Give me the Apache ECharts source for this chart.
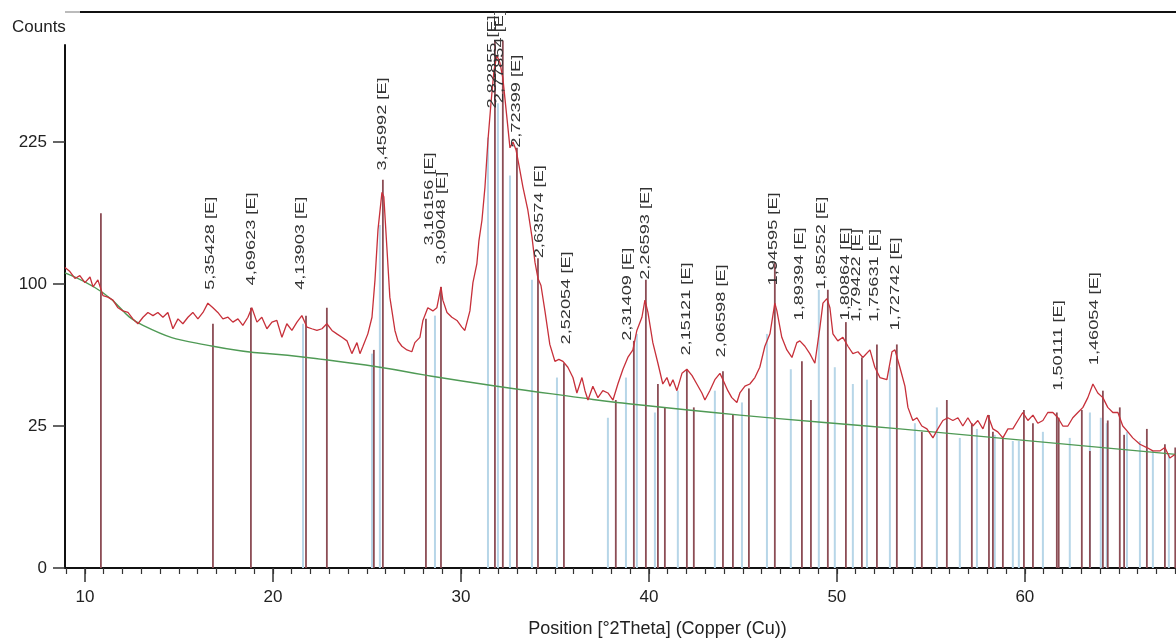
<!DOCTYPE html>
<html><head><meta charset="utf-8">
<script src="https://cdn.jsdelivr.net/npm/echarts@6/dist/echarts.min.js"></script>
<style>html,body{margin:0;padding:0;background:#fff}#c{width:1176px;height:639px}</style>
</head><body><div id="c"></div>
<script>
// Observed pattern: position (°2Theta) and counts
const twoTheta = [
 8.94,9.20,9.47,9.73,10.00,10.27,10.43,10.69,10.96,11.22,
 11.49,11.76,12.02,12.29,12.55,12.82,13.09,13.35,13.62,13.88,
 14.15,14.41,14.68,14.95,15.21,15.48,15.74,16.01,16.28,16.54,
 16.81,17.07,17.34,17.61,17.87,18.14,18.40,18.67,18.88,19.15,
 19.41,19.68,19.95,20.21,20.48,20.74,21.01,21.28,21.54,21.81,
 22.07,22.34,22.61,22.87,23.14,23.40,23.67,23.94,24.20,24.47,
 24.63,24.79,25.05,25.27,25.43,25.59,25.80,25.90,26.06,26.22,
 26.49,26.65,26.86,27.13,27.39,27.55,27.82,27.98,28.24,28.51,
 28.72,28.94,29.04,29.26,29.52,29.79,30.05,30.21,30.48,30.64,
 30.85,30.96,31.12,31.28,31.44,31.60,31.76,31.91,32.07,32.23,
 32.45,32.61,32.77,32.93,33.09,33.30,33.56,33.78,33.94,34.10,
 34.26,34.47,34.73,35.00,35.21,35.43,35.69,35.96,36.17,36.44,
 36.60,36.76,37.02,37.29,37.55,37.82,38.09,38.35,38.62,38.88,
 39.15,39.36,39.63,39.79,39.95,40.21,40.48,40.74,40.96,41.12,
 41.28,41.49,41.76,42.02,42.29,42.55,42.82,42.98,43.24,43.51,
 43.78,43.94,44.20,44.41,44.68,44.84,45.11,45.37,45.64,45.90,
 46.17,46.44,46.70,46.81,47.07,47.34,47.61,47.87,48.03,48.30,
 48.56,48.83,49.10,49.26,49.47,49.63,49.79,50.05,50.32,50.59,
 50.85,51.12,51.38,51.76,52.02,52.29,52.66,52.93,53.09,53.35,
 53.62,53.78,54.04,54.26,54.52,54.79,55.11,55.37,55.64,55.90,
 56.17,56.44,56.70,56.97,57.23,57.50,57.77,58.03,58.30,58.56,
 58.83,59.10,59.36,59.63,59.89,60.16,60.43,60.69,60.96,61.22,
 61.49,61.76,62.02,62.29,62.55,62.82,63.09,63.35,63.62,63.88,
 64.15,64.41,64.68,64.95,65.21,65.48,65.74,66.12,66.49,66.81,
 67.18,67.45,67.71,67.98
];
const counts = [
 112,109,104,106,101,105,98,103,92,91,
 89,84,82,81,77,74,78,81,79,81,
 78,81,71,77,74,78,81,77,81,87,
 84,81,77,78,75,77,73,78,84,75,
 78,71,75,76,66,74,70,75,79,72,
 71,70,71,74,70,68,66,64,57,63,
 57,61,68,78,103,142,175,171,128,91,
 70,64,61,59,58,63,66,76,84,82,
 84,98,89,81,78,76,72,70,82,101,
 115,133,150,180,227,268,307,326,317,298,
 251,219,225,217,201,180,159,136,116,104,
 99,82,62,53,54,53,50,45,38,45,
 39,35,41,36,39,38,35,42,49,55,
 59,70,78,89,81,63,52,42,45,41,
 44,39,47,49,46,42,38,35,39,44,
 47,44,39,36,34,38,41,42,45,50,
 61,68,87,82,66,59,55,63,64,61,
 57,52,72,87,90,84,68,64,66,61,
 57,58,55,59,50,45,44,58,59,50,
 41,32,27,28,25,24,21,24,27,28,
 27,28,25,28,25,27,24,29,24,23,
 21,24,24,27,30,27,29,26,27,30,
 30,28,25,25,28,30,32,36,42,38,
 36,32,30,30,25,23,21,19,18,17,
 17,18,15,16
];
// Background curve
const bgTheta  = [8.94,10.96,13.09,16.81,21.81,25.69,28.19,31.91,36.33,38.30,44.84,53.35,68.03];
const bgCounts = [108, 94,   73,   61,   55,   50,   46,   41,   36,   34,   29,   24,   16];
// Reference pattern sticks (dark)
const refDarkTheta  = [10.85,16.81,18.83,21.76,22.87,25.37,25.85,28.14,28.94,31.81,32.23,32.98,34.10,35.48,38.24,39.20,39.84,40.48,40.85,42.02,42.39,43.94,44.47,45.32,46.70,48.14,48.62,49.52,50.48,51.33,52.13,53.19,54.52,55.85,57.18,58.09,58.30,58.83,59.95,60.43,61.70,61.80,63.03,63.46,64.15,64.41,65.05,65.28,66.49,67.45,68.00];
const refDarkCounts = [156,  74,   84,   79,   84,   59,   187,  77,   98,   345,  345,  219,  119,  52,   35,   64,   103,  42,   32,   49,   32,   48,   29,   40,   116,  53,   35,   96,   75,   55,   62,   62,   23,   35,   26,   29,   23,   21,   31,   26,   30,   28,   31,   17,   39,   27,   32,   22,   24,   19,   18];
// Reference pattern sticks (light)
const refLightTheta  = [21.60,25.27,25.69,28.62,31.44,31.97,32.61,33.78,35.11,37.82,38.78,39.36,40.32,41.54,43.51,44.95,46.28,47.55,49.04,49.89,50.85,51.60,52.82,54.15,55.32,56.54,57.45,58.40,59.36,59.68,60.96,62.39,63.46,64.04,64.36,65.43,66.12,66.81,67.66];
const refLightCounts = [74,   57,   146,  79,   230,  268,  191,  103,  45,   28,   45,   68,   30,   39,   39,   34,   68,   49,   96,   50,   42,   44,   50,   26,   32,   21,   24,   22,   20,   20,   23,   21,   30,   28,   26,   23,   20,   17,   16];
// Peak labels (d-spacing) at position and label base intensity
const peakTheta  = [16.65,18.88,21.44,25.85,28.30,28.94,31.70,32.07,32.98,34.20,35.59,38.88,39.79,42.02,43.88,46.60,48.03,49.20,50.43,51.06,52.02,53.09,61.76,63.72];
const peakCounts = [96,   99,   96,   196,  129,  114,  262,  268,  219,  119,  62,   64,   103,  56,   55,   99,   76,   96,   76,   75,   75,   70,   39,   51];
const peakLabels = ["5,35428 [E]","4,69623 [E]","4,13903 [E]","3,45992 [E]","3,16156 [E]","3,09048 [E]","2,82855 [E]","2,77854 [E]","2,72399 [E]","2,63574 [E]","2,52054 [E]","2,31409 [E]","2,26593 [E]","2,15121 [E]","2,06598 [E]","1,94595 [E]","1,89394 [E]","1,85252 [E]","1,80864 [E]","1,79422 [E]","1,75631 [E]","1,72742 [E]","1,50111 [E]","1,46054 [E]"];
// Axis ticks
const xTickValues = [10,20,30,40,50,60];
const xMinorTickValues = [9,10,11,12,13,14,15,16,17,18,19,20,21,22,23,24,25,26,27,28,29,30,31,32,33,34,35,36,37,38,39,40,41,42,43,44,45,46,47,48,49,50,51,52,53,54,55,56,57,58,59,60,61,62,63,64,65,66,67,68];
const yTickCounts = [0,25,100,225];

const sq = Math.sqrt;
const FONT = '"Liberation Sans", Arial, sans-serif';
const chart = echarts.init(document.getElementById('c'), null, {renderer:'canvas'});

function stickRenderer(color, width){
  return function(params, api){
    const a = api.coord([api.value(0), 0]);
    const b = api.coord([api.value(0), api.value(1)]);
    return {type:'line', silent:true, shape:{x1:a[0],y1:a[1],x2:b[0],y2:b[1]}, style:{stroke:color, lineWidth:width}};
  };
}

const X_MIN = 8.94, X_MAX = 68.04, Y_MAX = 18.42;

chart.setOption({
  animation:false,
  backgroundColor:'#ffffff',
  grid:{left:65, right:0, top:45, bottom:71, containLabel:false, outerBoundsMode:'none'},
  xAxis:[{
    type:'value', min:X_MIN, max:X_MAX,
    name:'Position [°2Theta] (Copper (Cu))', nameLocation:'middle', nameGap:52,
    nameTextStyle:{fontFamily:FONT, fontSize:18, color:'#222', padding:[0,0,0,74]},
    axisLine:{show:true, lineStyle:{color:'#111', width:2}},
    axisTick:{show:true, length:14, customValues:xTickValues, lineStyle:{color:'#333', width:1.5}},
    axisLabel:{show:true, customValues:xTickValues, fontFamily:FONT, fontSize:17, color:'#222', margin:21},
    splitLine:{show:false}
  },{
    type:'value', min:X_MIN, max:X_MAX, position:'bottom',
    axisLine:{show:false},
    axisTick:{show:true, length:6, customValues:xMinorTickValues, lineStyle:{color:'#333', width:1.2}},
    axisLabel:{show:false},
    splitLine:{show:false}
  }],
  yAxis:{
    type:'value', min:0, max:Y_MAX,
    axisLine:{show:true, lineStyle:{color:'#111', width:2}},
    axisTick:{show:true, length:12, customValues:yTickCounts.map(sq), lineStyle:{color:'#333', width:1.5}},
    axisLabel:{show:true, customValues:yTickCounts.map(sq), fontFamily:FONT, fontSize:17, color:'#222', margin:18,
      formatter:function(v){ return String(Math.round(v*v)); }},
    splitLine:{show:false}
  },
  graphic:[
    {type:'line', shape:{x1:65,y1:12,x2:80,y2:12}, style:{stroke:'#bbb', lineWidth:2}, silent:true},
    {type:'line', shape:{x1:80,y1:12,x2:1176,y2:12}, style:{stroke:'#111', lineWidth:2}, silent:true},
    {type:'text', left:12, top:19, style:{text:'Counts', fontFamily:FONT, fontSize:17, fill:'#222'}}
  ],
  series:[
    {type:'custom', name:'ref light', clip:false, z:2, encode:{x:0,y:1},
     renderItem:stickRenderer('#b7d6e8', 2),
     data:refLightTheta.map((t,i)=>[t, sq(refLightCounts[i])])},
    {type:'custom', name:'ref dark', clip:false, z:3, encode:{x:0,y:1},
     renderItem:stickRenderer('#8c4d55', 1.8),
     data:refDarkTheta.map((t,i)=>[t, sq(refDarkCounts[i])])},
    {type:'line', name:'background', z:4, showSymbol:false, smooth:true, silent:true,
     lineStyle:{color:'#4f9a55', width:1.4},
     data:bgTheta.map((t,i)=>[t, sq(bgCounts[i])])},
    {type:'line', name:'observed', z:5, showSymbol:false, silent:true, clip:false,
     lineStyle:{color:'#c7303a', width:1.3},
     data:twoTheta.map((t,i)=>[t, sq(counts[i])])},
    {type:'custom', name:'labels', clip:false, z:6, encode:{x:0,y:1},
     renderItem:function(params, api){
       const p = api.coord([api.value(0), api.value(1)]);
       return {type:'text', x:p[0], y:p[1], rotation:Math.PI/2, scaleX:1.4, silent:true,
         style:{text:peakLabels[params.dataIndex], fontFamily:FONT, fontSize:13, fill:'#333', align:'left', verticalAlign:'middle'}};
     },
     data:peakTheta.map((t,i)=>[t, sq(peakCounts[i])])}
  ]
});
</script>
</body></html>
